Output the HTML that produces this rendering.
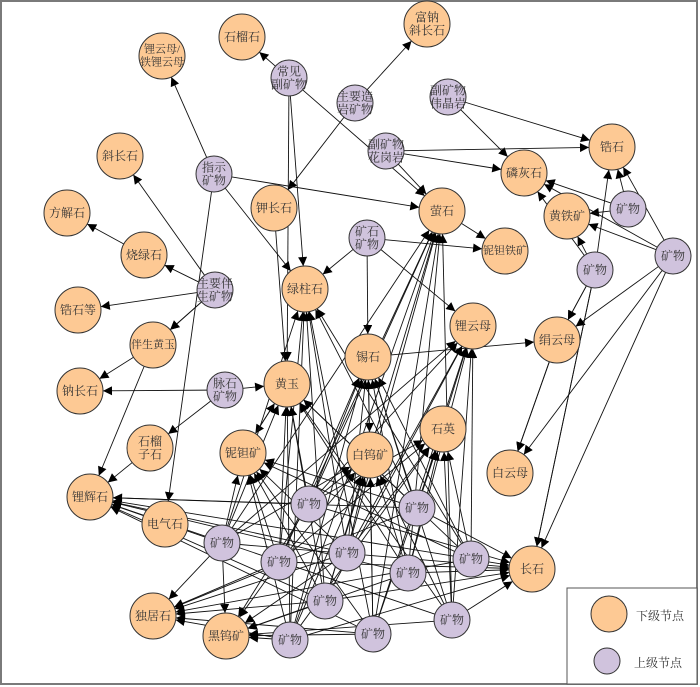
<!DOCTYPE html>
<html><head><meta charset="utf-8">
<style>
html,body{margin:0;padding:0;background:#fff;}
svg{display:block;}
text{font-family:"Liberation Serif","Noto Serif CJK SC",serif;font-size:12px;fill:#333;text-anchor:middle;dominant-baseline:central;}
</style></head><body>
<svg id="s" width="700" height="687" viewBox="0 0 700 687" xmlns="http://www.w3.org/2000/svg">
<defs><marker id="a" viewBox="0 0 10 10" refX="10" refY="5" markerWidth="10" markerHeight="9" markerUnits="userSpaceOnUse" orient="auto"><path d="M0,0L10,5L0,10z" fill="#000"/></marker></defs>
<rect x="1" y="1" width="696" height="683" fill="#fff" stroke="#7a7a7a" stroke-width="2"/>
<g id="E" stroke="#111" stroke-width="0.9"></g>
<g id="N"></g>
<rect x="567" y="588" width="130" height="96" fill="#fff" stroke="#555" stroke-width="1"/>
<circle cx="609" cy="614" r="18" fill="#fdc994" stroke="#333"/>
<text x="660" y="616" style="font-size:12px">下级节点</text>
<circle cx="607" cy="661" r="13" fill="#d0c3dd" stroke="#333"/>
<text x="658" y="663" style="font-size:12px">上级节点</text>
</svg>
<script>
var O={ // orange nodes
sll:[242,37,["石榴石"]],lyt:[162,56,["锂云母/","铁锂云母"]],fn:[427,24,["富钠","斜长石"]],
xc:[120,156,["斜长石"]],fj:[67,213,["方解石"]],sl:[144,255,["烧绿石"]],gsd:[78,310,["锆石等"]],
bs:[153,345,["伴生黄玉"]],jc:[274,208,["钾长石"]],lz:[305,289,["绿柱石"]],ys:[442,211,["萤石"]],
ntt:[505,251,["铌钽铁矿"]],lh:[524,173,["磷灰石"]],gs:[612,147,["锆石"]],ht:[567,216,["黄铁矿"]],
ly:[473,326,["锂云母"]],jy:[557,340,["绢云母"]],xs:[368,357,["锡石"]],hy:[287,384,["黄玉"]],
nc:[80,391,["钠长石"]],sz:[150,448,["石榴","子石"]],nt:[243,453,["铌钽矿"]],lhs:[90,497,["锂辉石"]],
dq:[165,524,["电气石"]],bw:[370,455,["白钨矿"]],sy:[443,429,["石英"]],by:[510,473,["白云母"]],
cs:[532,569,["长石"]],dj:[153,616,["独居石"]],hw:[226,636,["黑钨矿"]]};
var P={cj:[289,78,["常见","副矿物"]],zy:[355,103,["主要造","岩矿物"]],wj:[448,97,["副矿物","伟晶岩"]],
hg:[386,151,["副矿物","花岗岩"]],zs:[214,174,["指示","矿物"]],zb:[215,290,["主要伴","生矿物"]],
ks:[367,238,["矿石","矿物"]],m1:[628,209,["矿物"]],m2:[673,256,["矿物"]],m3:[595,270,["矿物"]],
ms:[225,390,["脉石","矿物"]],b1:[309,504,["矿物"]],b2:[417,508,["矿物"]],b3:[222,543,["矿物"]],
b4:[279,562,["矿物"]],b5:[347,553,["矿物"]],b6:[408,573,["矿物"]],b7:[471,559,["矿物"]],
b8:[325,601,["矿物"]],b9:[290,640,["矿物"]],b10:[373,634,["矿物"]],b11:[452,620,["矿物"]]};
var edges=[["cj","sll"],["cj","lz"],["cj","ys"],["cj","hy"],["zy","fn"],["zy","jc"],["wj","gs"],["wj","lh"],
["hg","gs"],["hg","lh"],["hg","ys"],["zs","lyt"],["zs","lz"],["zs","ys"],["zs","dq"],
["zb","xc"],["zb","sl"],["zb","gsd"],["zb","bs"],["zb","bs"],["sl","fj"],["bs","nc"],["bs","lhs"],["sz","lhs"],
["ms","nc"],["ms","hy"],["ms","sz"],["ks","ntt"],["ks","ly"],["ks","lz"],["ks","xs"],["ys","ntt"],
["m1","gs"],["m1","lh"],["m1","ht"],["m2","gs"],["m2","ht"],["m2","jy"],["m2","by"],["m2","cs"],["m2","lh"],
["m3","ht"],["m3","lh"],["m3","gs"],["m3","jy"],["m3","jy"],["m3","cs"],["m3","cs"],["jy","by"],["jy","by"],["xs","jy"],
["hy","nt"],["nt","hy"],["xs","bw"],["jc","hy"]];
var B=["b1","b2","b3","b4","b5","b6","b7","b8","b9","b10","b11"];
var T=["lz","ys","xs","ly","hy","nt","bw","sy","lhs","cs","dj","hw"];
B.forEach(function(b,i){T.forEach(function(t,j){if((i*7+j*3)%5!==0)edges.push([b,t]);});});
var ns="http://www.w3.org/2000/svg",E=document.getElementById("E"),N=document.getElementById("N");
function g(k){return O[k]?{p:O[k],r:23}:{p:P[k],r:18};}
edges.forEach(function(e){var a=g(e[0]),b=g(e[1]);var x1=a.p[0],y1=a.p[1],x2=b.p[0],y2=b.p[1];
var dx=x2-x1,dy=y2-y1,d=Math.sqrt(dx*dx+dy*dy);var l=document.createElementNS(ns,"line");
l.setAttribute("x1",x1+dx/d*a.r);l.setAttribute("y1",y1+dy/d*a.r);l.setAttribute("x2",x2-dx/d*b.r);l.setAttribute("y2",y2-dy/d*b.r);
l.setAttribute("marker-end","url(#a)");E.appendChild(l);});
function draw(M,r,fill){for(var k in M){var v=M[k];var c=document.createElementNS(ns,"circle");
c.setAttribute("cx",v[0]);c.setAttribute("cy",v[1]);c.setAttribute("r",r);c.setAttribute("fill",fill);c.setAttribute("stroke","#333");c.setAttribute("stroke-width","1");N.appendChild(c);
var L=v[2];L.forEach(function(s,i){var t=document.createElementNS(ns,"text");t.setAttribute("x",v[0]);
t.setAttribute("y",v[1]+(i-(L.length-1)/2)*13);if(s.length>3)t.setAttribute("style","font-size:11px");t.textContent=s;N.appendChild(t);});}}
draw(O,23,"#fdc994");draw(P,18,"#d0c3dd");
</script>
</body></html>
